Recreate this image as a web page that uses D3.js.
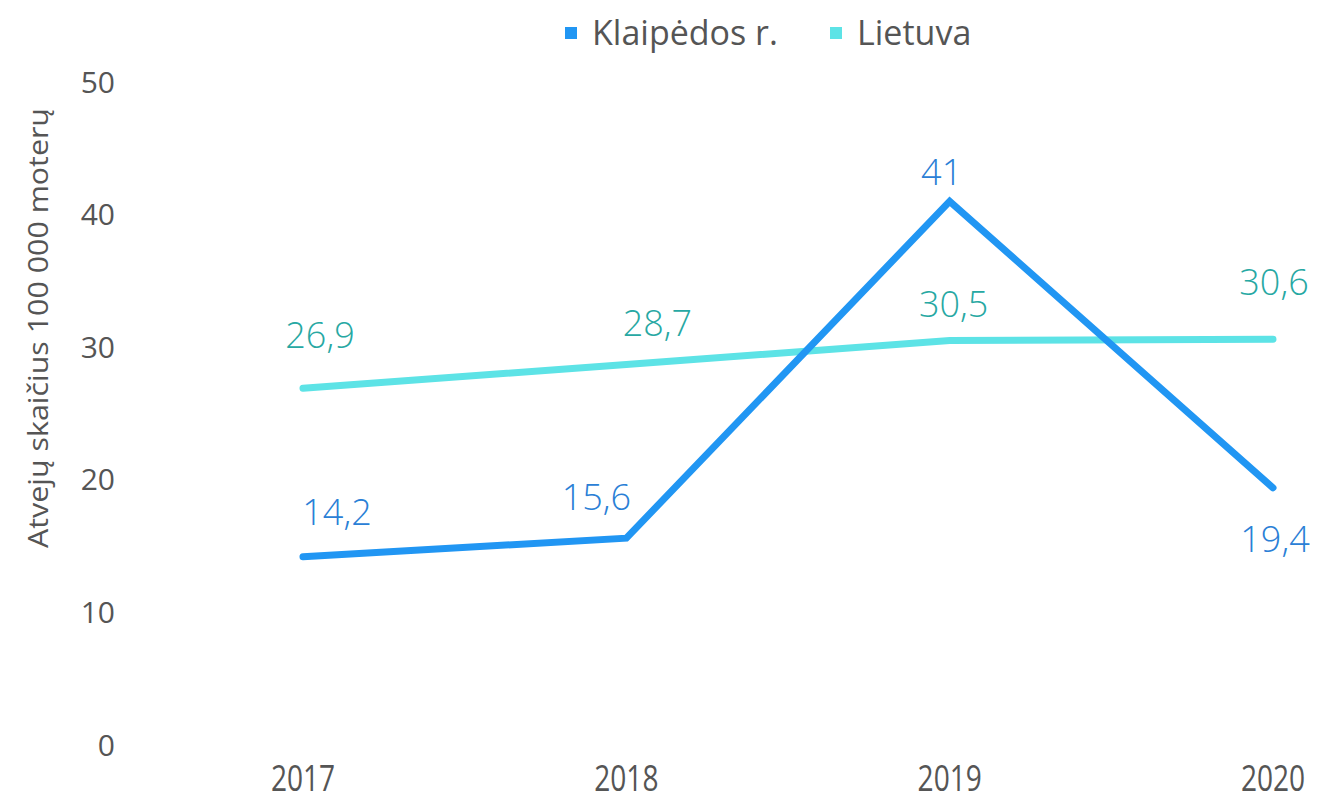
<!DOCTYPE html>
<html lang="lt">
<head>
<meta charset="UTF-8">
<title>Atvejų skaičius 100 000 moterų</title>
<script src="https://cdn.jsdelivr.net/npm/d3@7"></script>
<style>
  body { margin: 0; background: #fff; }
  text { font-family: "Open Sans", sans-serif; }
</style>
</head>
<body>
<div id="container"></div>
<script>
// chart data
const years = ["2017", "2018", "2019", "2020"];
const klaipeda = [14.2, 15.6, 41, 19.4];
const lietuva = [26.9, 28.7, 30.5, 30.6];
const yTicks = [0, 10, 20, 30, 40, 50];

const width = 1319, height = 803;

const series = [
  { name: "Klaipėdos r.", values: klaipeda, line: "#2196f3", label: "#2a80d6",
    // label offsets relative to the point
    dx: [34, -30, -8, 2], dy: [-32, -28, -16, 64] },
  { name: "Lietuva", values: lietuva, line: "#5de3e6", label: "#27a8a3",
    dx: [17, 31, 4, 1], dy: [-40, -28, -24, -44] }
];

const svg = d3.select("#container").append("svg")
  .attr("width", width)
  .attr("height", height);

const x = d3.scalePoint().domain(years).range([303, 1273]);
const y = d3.scaleLinear().domain([0, 50]).range([745, 82]);

// y tick labels
svg.append("g").selectAll("text")
  .data(yTicks)
  .join("text")
  .attr("x", 115)
  .attr("y", d => y(d))
  .attr("dy", "0.35em")
  .attr("text-anchor", "end")
  .attr("fill", "#555")
  .attr("font-size", 30)
  .text(d => d);

// x tick labels (condensed look)
svg.append("g").selectAll("text")
  .data(years)
  .join("text")
  .attr("transform", d => `translate(${x(d)},791) scale(0.78,1)`)
  .attr("text-anchor", "middle")
  .attr("fill", "#555")
  .attr("font-size", 36)
  .text(d => d);

// y title
svg.append("text")
  .attr("transform", "translate(48,328) rotate(-90)")
  .attr("text-anchor", "middle")
  .attr("fill", "#555")
  .attr("font-size", 27)
  .attr("textLength", 440)
  .attr("lengthAdjust", "spacingAndGlyphs")
  .text("Atvejų skaičius 100 000 moterų");

const line = d3.line()
  .x((d, i) => x(years[i]))
  .y(d => y(d));

// draw Lietuva first so Klaipėdos sits on top
[series[1], series[0]].forEach(s => {
  svg.append("path")
    .datum(s.values)
    .attr("fill", "none")
    .attr("stroke", s.line)
    .attr("stroke-width", 7)
    .attr("stroke-linejoin", "miter")
    .attr("stroke-linecap", "round")
    .attr("d", line);
});

series.forEach(s => {
  svg.append("g").selectAll("text")
    .data(s.values)
    .join("text")
    .attr("x", (d, i) => x(years[i]) + s.dx[i])
    .attr("y", (d, i) => y(d) + s.dy[i])
    .attr("text-anchor", "middle")
    .attr("fill", s.label)
    .attr("font-size", 36)
    .attr("font-weight", 300)
    .text(d => String(d).replace(".", ","));
});

// legend
const legend = svg.append("g");
const legendX = [565, 830];
series.forEach((s, i) => {
  legend.append("rect")
    .attr("x", legendX[i])
    .attr("y", 27)
    .attr("width", 12)
    .attr("height", 12)
    .attr("fill", s.line);
  legend.append("text")
    .attr("x", legendX[i] + 27)
    .attr("y", 45)
    .attr("fill", "#555")
    .attr("font-size", 34)
    .text(s.name);
});
</script>
</body>
</html>
